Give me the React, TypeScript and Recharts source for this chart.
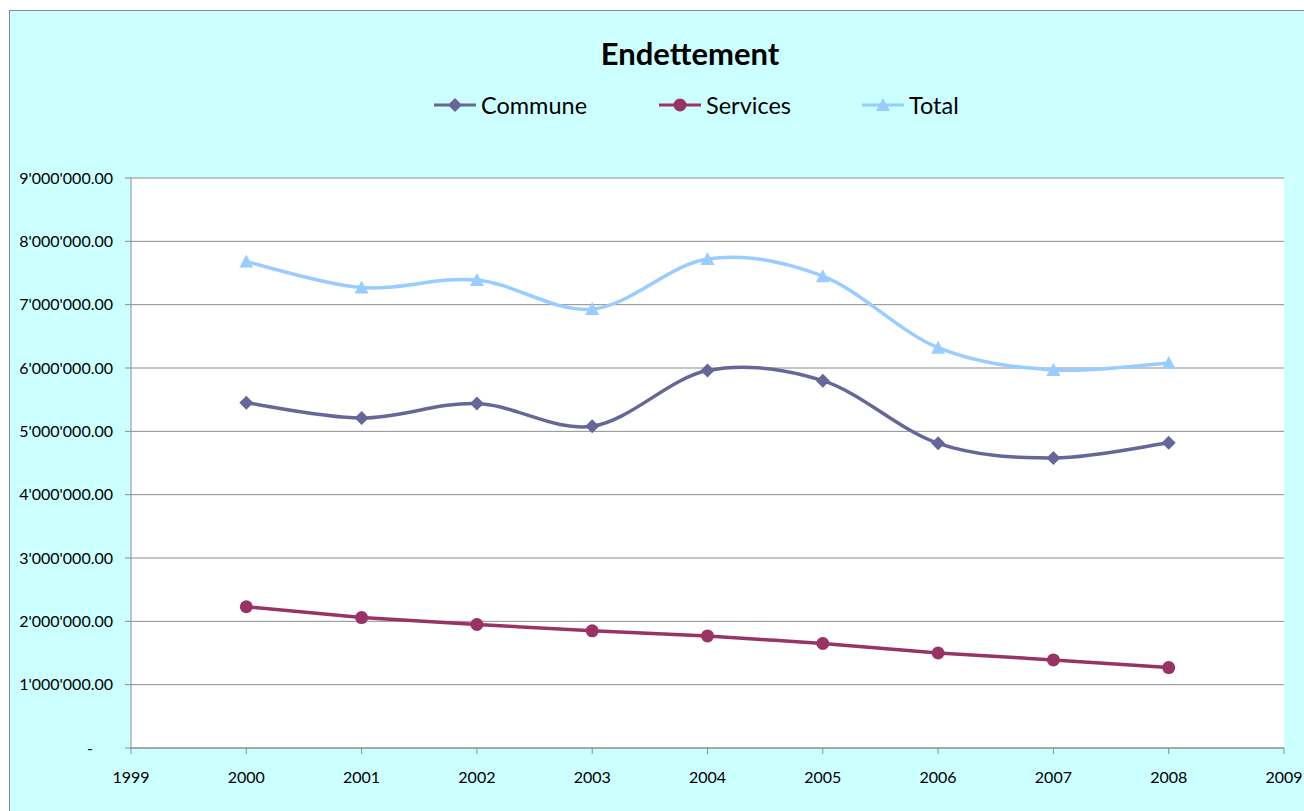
import React from 'react';
import { LineChart, Line, XAxis, YAxis, CartesianGrid } from 'recharts';

const years = [2000, 2001, 2002, 2003, 2004, 2005, 2006, 2007, 2008];
const commune = [5450000, 5210000, 5440000, 5080000, 5960000, 5800000, 4810000, 4580000, 4820000];
const services = [2230000, 2060000, 1950000, 1850000, 1770000, 1650000, 1500000, 1390000, 1270000];
const total = [7680000, 7270000, 7390000, 6930000, 7720000, 7450000, 6320000, 5970000, 6080000];
const xTicks = [1999, 2000, 2001, 2002, 2003, 2004, 2005, 2006, 2007, 2008, 2009];
const yTicks = [0, 1000000, 2000000, 3000000, 4000000, 5000000, 6000000, 7000000, 8000000, 9000000];
const seriesNames = ['Commune', 'Services', 'Total'];

const data = years.map((y, i) => ({ year: y, commune: commune[i], services: services[i], total: total[i] }));

const C_COMMUNE = '#666699';
const C_SERVICES = '#993366';
const C_TOTAL = '#99CCFF';
const FONT = 'Lato, "Open Sans", sans-serif';
const TICK_SIZE = 16;

const excelSmooth = (context: any) => {
  let pts: number[][] = [];
  return {
    areaStart() {},
    areaEnd() {},
    lineStart() {
      pts = [];
    },
    point(x: number, y: number) {
      pts.push([+x, +y]);
    },
    lineEnd() {
      const n = pts.length;
      if (!n) return;
      context.moveTo(pts[0][0], pts[0][1]);
      for (let i = 0; i < n - 1; i++) {
        const p0 = pts[i > 0 ? i - 1 : i];
        const p1 = pts[i];
        const p2 = pts[i + 1];
        const p3 = pts[i + 2 < n ? i + 2 : i + 1];
        context.bezierCurveTo(
          p1[0] + (p2[0] - p0[0]) / 6,
          p1[1] + (p2[1] - p0[1]) / 6,
          p2[0] - (p3[0] - p1[0]) / 6,
          p2[1] - (p3[1] - p1[1]) / 6,
          p2[0],
          p2[1]
        );
      }
    },
  };
};

const fmt = (v: number) => {
  const s = Math.round(v).toString().replace(/\B(?=(\d{3})+(?!\d))/g, "'");
  return s + '.00';
};

const YTick = (props: any) => {
  const { x, y, payload } = props;
  if (payload.value === 0) {
    return (
      <text x={x - 20} y={y} dy="0.355em" textAnchor="end" fontSize={TICK_SIZE} fontFamily={FONT} fill="#000">
        -
      </text>
    );
  }
  return (
    <text x={x} y={y} dy="0.355em" textAnchor="end" fontSize={TICK_SIZE} fontFamily={FONT} fill="#000">
      {fmt(payload.value)}
    </text>
  );
};

const XTick = (props: any) => {
  const { x, y, payload } = props;
  return (
    <text x={x} y={y} dy="0.71em" textAnchor="middle" fontSize={TICK_SIZE} fontFamily={FONT} fill="#000">
      {payload.value}
    </text>
  );
};

const Diamond = (props: any) => {
  const { cx, cy } = props;
  if (cx == null || cy == null) return null;
  const r = 7;
  return <path d={`M${cx},${cy - r}L${cx + r},${cy}L${cx},${cy + r}L${cx - r},${cy}Z`} fill={C_COMMUNE} />;
};

const Circle = (props: any) => {
  const { cx, cy } = props;
  if (cx == null || cy == null) return null;
  return <circle cx={cx} cy={cy} r={6.5} fill={C_SERVICES} />;
};

const Triangle = (props: any) => {
  const { cx, cy } = props;
  if (cx == null || cy == null) return null;
  return <path d={`M${cx},${cy - 7}L${cx + 7},${cy + 6}L${cx - 7},${cy + 6}Z`} fill={C_TOTAL} />;
};

const LegendIcon = ({ color, kind }: { color: string; kind: string }) => (
  <svg width={42} height={20} style={{ display: 'block' }}>
    <line x1={0} y1={10} x2={42} y2={10} stroke={color} strokeWidth={3} />
    {kind === 'diamond' && <path d="M21,3L28,10L21,17L14,10Z" fill={color} />}
    {kind === 'circle' && <circle cx={21} cy={10} r={6.5} fill={color} />}
    {kind === 'triangle' && <path d="M21,3L28,16L14,16Z" fill={color} />}
  </svg>
);

const legendItems = [
  { name: seriesNames[0], color: C_COMMUNE, kind: 'diamond', left: 424 },
  { name: seriesNames[1], color: C_SERVICES, kind: 'circle', left: 649 },
  { name: seriesNames[2], color: C_TOTAL, kind: 'triangle', left: 852 },
];

export default function App() {
  return (
    <div
      style={{
        position: 'fixed',
        left: 9,
        top: 10,
        width: 1295,
        height: 801,
        boxSizing: 'border-box',
        borderLeft: '1px solid #8a8a8a',
        borderTop: '1px solid #8a8a8a',
        background: '#CCFFFF',
        overflow: 'hidden',
      }}
    >
      <div
        style={{
          position: 'absolute',
          left: 680,
          top: 42,
          transform: 'translate(-50%, -50%)',
          fontFamily: FONT,
          fontWeight: 'bold',
          fontSize: 31,
          whiteSpace: 'nowrap',
          color: '#000',
        }}
      >
        Endettement
      </div>
      {legendItems.map((it) => (
        <div
          key={it.name}
          style={{
            position: 'absolute',
            left: it.left,
            top: 94,
            transform: 'translateY(-50%)',
            display: 'flex',
            alignItems: 'center',
            fontFamily: FONT,
            fontSize: 23.5,
            whiteSpace: 'nowrap',
            color: '#000',
          }}
        >
          <LegendIcon color={it.color} kind={it.kind} />
          <span style={{ marginLeft: 5 }}>{it.name}</span>
        </div>
      ))}
      <div style={{ position: 'absolute', left: 0, top: 0 }}>
        <LineChart width={1294} height={800} data={data} margin={{ top: 167, right: 20, bottom: 0, left: 0 }}>
          <CartesianGrid vertical={false} stroke="#8c8c8c" fill="#ffffff" />
          <XAxis
            dataKey="year"
            type="number"
            domain={[1999, 2009]}
            ticks={xTicks}
            interval={0}
            height={63}
            tickSize={6}
            tickMargin={18}
            stroke="#8c8c8c"
            tick={<XTick />}
            allowDecimals={false}
          />
          <YAxis
            type="number"
            domain={[0, 9000000]}
            ticks={yTicks}
            interval={0}
            width={121}
            tickSize={6}
            tickMargin={12}
            stroke="#8c8c8c"
            tick={<YTick />}
          />
          <Line
            dataKey="total"
            type={excelSmooth as any}
            stroke={C_TOTAL}
            strokeWidth={3.5}
            dot={<Triangle />}
            activeDot={false}
            isAnimationActive={false}
          />
          <Line
            dataKey="commune"
            type={excelSmooth as any}
            stroke={C_COMMUNE}
            strokeWidth={3.5}
            dot={<Diamond />}
            activeDot={false}
            isAnimationActive={false}
          />
          <Line
            dataKey="services"
            type="linear"
            stroke={C_SERVICES}
            strokeWidth={3.5}
            dot={<Circle />}
            activeDot={false}
            isAnimationActive={false}
          />
        </LineChart>
      </div>
    </div>
  );
}
